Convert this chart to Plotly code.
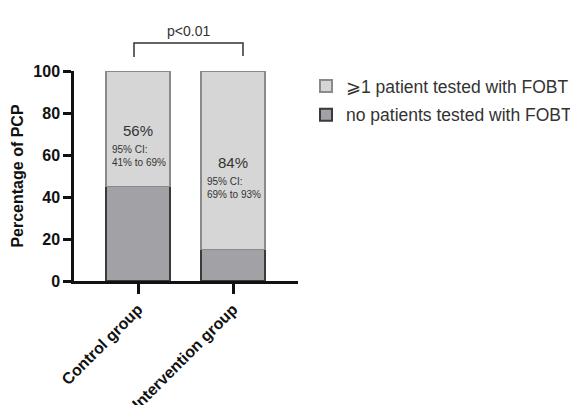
import plotly.graph_objects as go

categories = ["Control group", "Intervention group"]
no_tested = [45, 15]
tested = [55, 85]
pct_labels = ["56%", "84%"]
ci_labels = ["95% CI:<br>41% to 69%", "95% CI:<br>69% to 93%"]
pct_y = [71.5, 56.5]
ci_y = [59.5, 44.5]
p_text = "p<0.01"

FONT = "Liberation Sans, Arial, sans-serif"
# the page has an 8px body margin, so the figure is drawn 8px right/down
OFF = 8
PL, PR, PT, PB = 74, 298, 71, 281  # plot area in page pixels
W, H = 578 - OFF, 405 - OFF
L, T = PL - OFF, PT - OFF
R = W - (PR - OFF)
B = H - (PB - OFF)
xr = [-0.674, 1.684]

def yp(ypx):
    return (PB - ypx) / (PB - PT)

def xpp(xpx):
    return (xpx - PL) / (PR - PL)

fig = go.Figure()
fig.add_bar(x=[0, 1], y=no_tested, name="no patients tested with FOBT",
            legendgroup="a", legendrank=2,
            marker=dict(color="#a2a2a6", line=dict(color="#3a3a3a", width=1.5)),
            width=0.67)
fig.add_bar(x=[0, 1], y=tested, name="⩾1 patient tested with FOBT",
            legendgroup="b", legendrank=1,
            marker=dict(color="#d6d6d6", line=dict(color="#8a8a8a", width=1.5)),
            width=0.67)

for i in range(2):
    fig.add_annotation(x=i, y=pct_y[i], xref="x", yref="y", text=pct_labels[i],
                       showarrow=False, font=dict(size=15, color="#333", family=FONT))
    fig.add_annotation(x=i - 0.3, y=ci_y[i], xref="x", yref="y", text=ci_labels[i],
                       showarrow=False, xanchor="left", align="left",
                       font=dict(size=10, color="#333", family=FONT))

# significance bracket
xa, xb = xpp(134), xpp(243)
fig.add_shape(type="path", xref="paper", yref="paper",
              path=f"M{xa},{yp(57)} L{xa},{yp(43)} L{xb},{yp(43)} L{xb},{yp(56)}",
              line=dict(color="#333", width=1.5))
fig.add_annotation(x=xpp(188), y=yp(21), xref="paper", yref="paper", text=p_text,
                   showarrow=False, font=dict(size=14, color="#333", family=FONT))

fig.update_layout(
    width=W, height=H, margin=dict(l=L, r=R, t=T, b=B, autoexpand=False),
    barmode="stack", plot_bgcolor="white", paper_bgcolor="white",
    font=dict(family=FONT, color="#111"),
    legend=dict(x=xpp(306), y=yp(68), xanchor="left", yanchor="top",
                traceorder="grouped", font=dict(size=17.5, color="#333"),
                itemsizing="constant", tracegroupgap=3),
    showlegend=True,
)
fig.update_xaxes(range=xr, tickvals=[0, 1], ticktext=categories, tickangle=-45,
                 automargin=False,
                 showline=True, linecolor="#111", linewidth=2.5,
                 ticks="outside", ticklen=10, tickwidth=2.5, tickcolor="#111",
                 tickfont=dict(size=16, family=FONT, color="#111", weight="bold"),
                 showgrid=False, zeroline=False)
fig.update_yaxes(range=[0, 100], tickvals=[0, 20, 40, 60, 80, 100],
                 automargin=False,
                 showline=True, linecolor="#111", linewidth=2.5,
                 ticks="outside", ticklen=8, tickwidth=2.5, tickcolor="#111",
                 tickfont=dict(size=16, family=FONT, color="#111", weight="bold"),
                 title=dict(text="Percentage of PCP", standoff=6,
                            font=dict(size=16, family=FONT, color="#111", weight="bold")),
                 showgrid=False, zeroline=False)

fig.write_html("out.html")
